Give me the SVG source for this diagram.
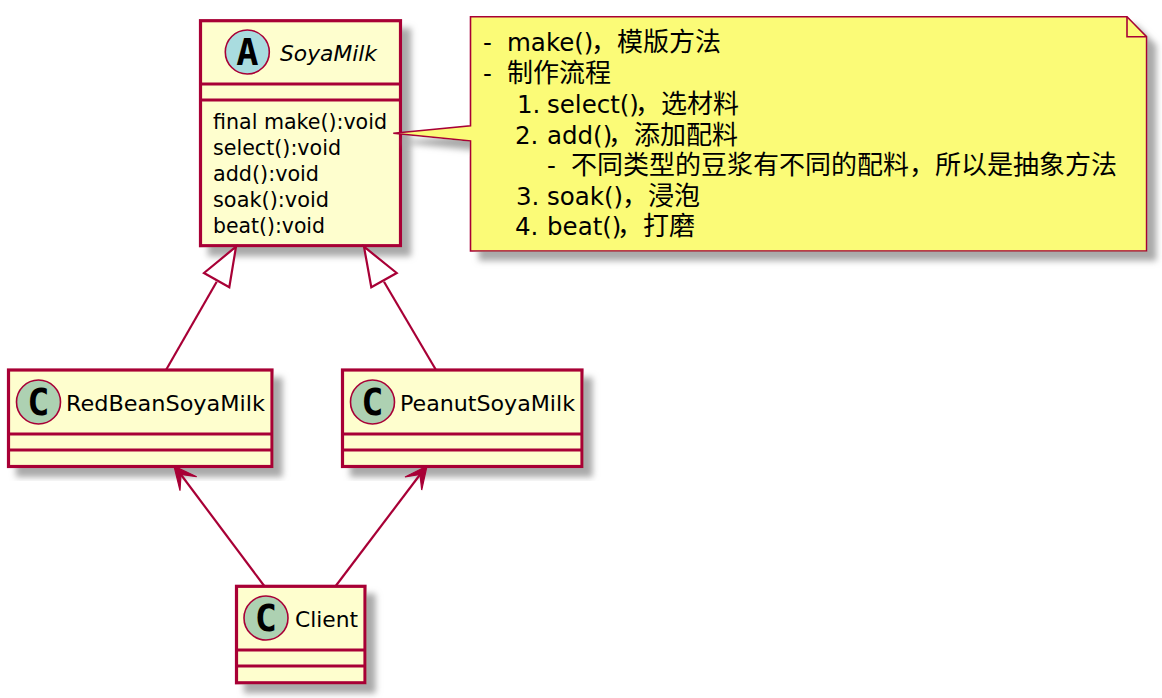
<svg xmlns="http://www.w3.org/2000/svg" width="1162" height="698" viewBox="0 0 1162 698">
<defs>
<filter id="sh" x="-10%" y="-10%" width="125%" height="125%"><feGaussianBlur in="SourceAlpha" stdDeviation="3"/><feOffset dx="9" dy="9"/><feColorMatrix values="0 0 0 0 0.4 0 0 0 0 0.4 0 0 0 0 0.4 0 0 0 1 0"/><feMerge><feMergeNode/><feMergeNode in="SourceGraphic"/></feMerge></filter>
</defs>
<style>
.box{fill:#FEFECE;stroke:#A80036;stroke-width:3.2}
.sep{stroke:#A80036;stroke-width:3.2;fill:none}
.c{fill:#ADD1B2;stroke:#A80036;stroke-width:1.6}
.a{fill:#A9DCDF;stroke:#A80036;stroke-width:1.6}
.g{font-family:"DejaVu Sans Mono",monospace;font-weight:700;font-size:37px;text-anchor:middle;fill:#000}
text{font-family:"DejaVu Sans","Noto Sans CJK SC",sans-serif;fill:#000}
.n{font-size:22px}
.m{font-size:20.5px}
.t{font-size:24.5px}
.k{font-size:26px}
.line{fill:none;stroke:#A80036;stroke-width:2.2}
.tri{fill:#fff;stroke:#A80036;stroke-width:2.2}
.head{fill:#A80036;stroke:#A80036;stroke-width:1.2}
</style>
<g id="SoyaMilk">
<rect class="box" x="200.5" y="20.7" width="200" height="225" filter="url(#sh)"/>
<path class="sep" d="M200.5 84H400.5M200.5 100H400.5"/>
<circle class="a" cx="247.3" cy="52" r="22"/>
<text class="g" x="247.3" y="65">A</text>
<text class="n" x="280" y="60.5" font-style="italic" textLength="97" lengthAdjust="spacingAndGlyphs">SoyaMilk</text>
<text class="m" x="213" y="129" textLength="174" lengthAdjust="spacingAndGlyphs">final make():void</text>
<text class="m" x="213" y="155" textLength="128" lengthAdjust="spacingAndGlyphs">select():void</text>
<text class="m" x="213" y="181" textLength="106" lengthAdjust="spacingAndGlyphs">add():void</text>
<text class="m" x="213" y="207" textLength="116" lengthAdjust="spacingAndGlyphs">soak():void</text>
<text class="m" x="213" y="233" textLength="112" lengthAdjust="spacingAndGlyphs">beat():void</text>
</g>
<g id="Note">
<path d="M470.5 16.7H1127L1146.6 36.7V251H470.5V141L393.3 133.3L470.5 125.7Z" fill="#FBFB77" stroke="#A80036" stroke-width="1.6" filter="url(#sh)"/>
<path d="M1127 16.7V36.7H1146.6" fill="none" stroke="#A80036" stroke-width="1.6"/>
<text class="t" x="483" y="51">- <tspan x="507">make()</tspan><tspan class="k" x="591">，模版方法</tspan></text>
<text class="t" x="483" y="82">- <tspan class="k" x="507">制作流程</tspan></text>
<text class="t" x="517" y="113">1. <tspan x="547">select()</tspan><tspan class="k" x="635">，选材料</tspan></text>
<text class="t" x="515" y="144">2. <tspan x="547">add()</tspan><tspan class="k" x="608">，添加配料</tspan></text>
<text class="t" x="547" y="174">- <tspan class="k" x="571">不同类型的豆浆有不同的配料，所以是抽象方法</tspan></text>
<text class="t" x="516" y="205">3. <tspan x="547">soak()</tspan><tspan class="k" x="622">，浸泡</tspan></text>
<text class="t" x="515" y="235">4. <tspan x="547">beat()</tspan><tspan class="k" x="617">，打磨</tspan></text>
</g>
<g id="RedBeanSoyaMilk">
<rect class="box" x="8.5" y="370" width="263.5" height="96.5" filter="url(#sh)"/>
<path class="sep" d="M8.5 434H272M8.5 450H272"/>
<circle class="c" cx="38.5" cy="402" r="22"/>
<text class="g" x="38.5" y="415">C</text>
<text class="n" x="66" y="410.7" textLength="199" lengthAdjust="spacingAndGlyphs">RedBeanSoyaMilk</text>
</g>
<g id="PeanutSoyaMilk">
<rect class="box" x="342.5" y="370" width="239.5" height="96.5" filter="url(#sh)"/>
<path class="sep" d="M342.5 434H582M342.5 450H582"/>
<circle class="c" cx="372.5" cy="402" r="22"/>
<text class="g" x="372.5" y="415">C</text>
<text class="n" x="400" y="410.7" textLength="175" lengthAdjust="spacingAndGlyphs">PeanutSoyaMilk</text>
</g>
<g id="Client">
<rect class="box" x="236.5" y="586.3" width="128.5" height="96.5" filter="url(#sh)"/>
<path class="sep" d="M236.5 650H365M236.5 666H365"/>
<circle class="c" cx="266" cy="618" r="22"/>
<text class="g" x="266" y="631">C</text>
<text class="n" x="295" y="626.7" textLength="63" lengthAdjust="spacingAndGlyphs">Client</text>
</g>
<g id="connectors">
<path class="line" d="M216.7 281.7L166 370"/>
<polygon class="tri" points="236,246.7 204,273 229.3,287.3"/>
<path class="line" d="M384 281.7L436 370"/>
<polygon class="tri" points="364,246.7 396.7,273 371.3,287.3"/>
<path class="line" d="M264.3 586L179 472"/>
<polygon class="head" points="174,466 180,490.7 181,474.5 196.7,476.7"/>
<path class="line" d="M335.7 586L422 472"/>
<polygon class="head" points="427,466 421.7,490 420,474.5 405,477"/>
</g>
</svg>
